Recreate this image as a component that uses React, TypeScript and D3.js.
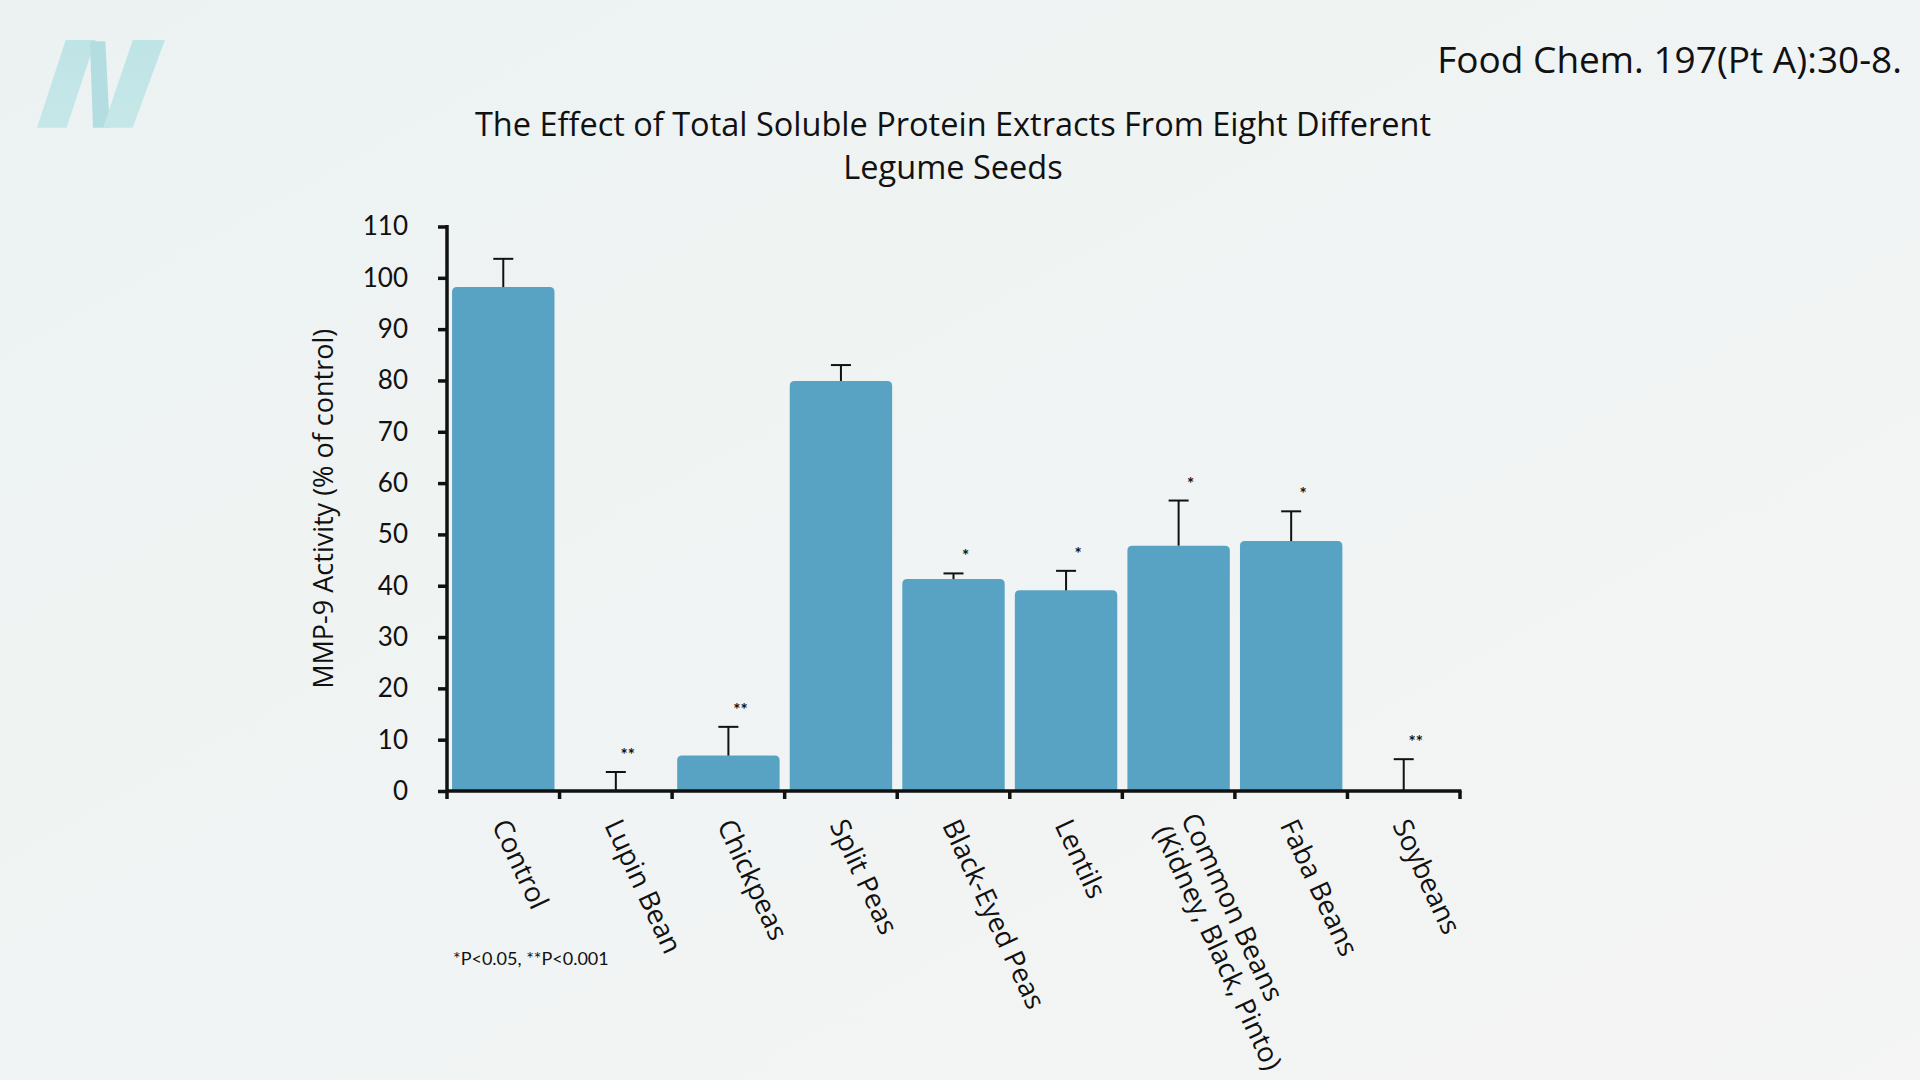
import React, { useEffect, useRef } from 'react';
import * as d3 from 'd3';

// Data
const categories = [
    'Control',
    'Lupin Bean',
    'Chickpeas',
    'Split Peas',
    'Black-Eyed Peas',
    'Lentils',
    'Common Beans (Kidney, Black, Pinto)',
    'Faba Beans',
    'Soybeans'
];
const categoryLines = [
    ['Control'],
    ['Lupin Bean'],
    ['Chickpeas'],
    ['Split Peas'],
    ['Black-Eyed Peas'],
    ['Lentils'],
    ['Common Beans', '(Kidney, Black, Pinto)'],
    ['Faba Beans'],
    ['Soybeans']
];
const activity = [98.2, 0, 6.9, 79.9, 41.3, 39.1, 47.8, 48.7, 0];
const errors = [5.5, 3.7, 5.6, 3.1, 1.1, 3.8, 8.8, 5.8, 6.2];
const significance = ['', '**', '**', '', '*', '*', '*', '*', '**'];
const yTicks = [0, 10, 20, 30, 40, 50, 60, 70, 80, 90, 100, 110];

const titleLines = [
    'The Effect of Total Soluble Protein Extracts From Eight Different',
    'Legume Seeds'
];
const citation = 'Food Chem. 197(Pt A):30-8.';
const yLabel = 'MMP-9 Activity (% of control)';
const footnote = '*P<0.05, **P<0.001';

const W = 1920;
const H = 1080;

const LegumeChart: React.FC = () => {
    const svgRef = useRef<SVGSVGElement>(null);

    useEffect(() => {
        if (!svgRef.current) return;
        const svg = d3.select(svgRef.current);
        svg.selectAll('*').remove();

        const left = 447, right = 1460, top = 226.5, bottom = 791;
        const sans = 'Lato, "Open Sans", sans-serif';
        const openSans = '"Open Sans", "Noto Sans", sans-serif';

        // background
        const defs = svg.append('defs');
        const grad = defs.append('linearGradient')
            .attr('id', 'bg').attr('x1', 0).attr('y1', 0).attr('x2', 1).attr('y2', 1);
        grad.append('stop').attr('offset', '0%').attr('stop-color', '#ecf2f2');
        grad.append('stop').attr('offset', '100%').attr('stop-color', '#f4f5f4');
        svg.append('rect').attr('width', W).attr('height', H).attr('fill', 'url(#bg)');

        // logo mark
        const logoGrad = defs.append('linearGradient')
            .attr('id', 'logo').attr('x1', 0).attr('y1', 0).attr('x2', 0).attr('y2', 1);
        logoGrad.append('stop').attr('offset', '0%').attr('stop-color', '#bfe4e6');
        logoGrad.append('stop').attr('offset', '100%').attr('stop-color', '#c6e7e8');
        const logo = svg.append('g')
            .attr('transform', 'translate(37,39) scale(0.441,0.332) translate(-85,-115)')
            .attr('fill', 'url(#logo)');
        logo.append('polygon').attr('points', '150,118 218,118 152,382 85,382');
        logo.append('polygon').attr('points', '205,122 240,122 250,382 212,382').attr('fill', '#b3dde0');
        logo.append('polygon').attr('points', '302,118 375,118 302,382 235,382');

        // citation
        svg.append('text')
            .attr('x', 1902).attr('y', 73)
            .attr('text-anchor', 'end')
            .attr('font-family', openSans)
            .attr('font-size', 37)
            .attr('fill', '#111')
            .text(citation);

        // title
        svg.append('g').selectAll('text')
            .data(titleLines)
            .enter()
            .append('text')
            .attr('x', 953)
            .attr('y', (_, i) => 136 + i * 43)
            .attr('text-anchor', 'middle')
            .attr('font-family', openSans)
            .attr('font-size', 32.5)
            .attr('fill', '#111')
            .text(d => d);

        const x = d3.scaleBand<string>()
            .domain(categories)
            .range([left, right])
            .paddingInner(0.09)
            .paddingOuter(0.045);

        const y = d3.scaleLinear()
            .domain([0, 110])
            .range([bottom, top]);

        const g = svg.append('g');
        const r = 5;

        // bars with rounded top corners
        g.selectAll('.bar')
            .data(categories)
            .enter()
            .append('path')
            .attr('class', 'bar')
            .attr('fill', '#58a3c4')
            .attr('d', (c, i) => {
                const x0 = x(c) as number;
                const w = x.bandwidth();
                const y0 = y(activity[i]);
                const h = bottom - y0;
                if (h <= 0) return '';
                const rr = Math.min(r, h);
                return `M${x0},${bottom}V${y0 + rr}Q${x0},${y0} ${x0 + rr},${y0}` +
                    `H${x0 + w - rr}Q${x0 + w},${y0} ${x0 + w},${y0 + rr}V${bottom}Z`;
            });

        // error bars (upper only)
        const cap = 10;
        const err = g.selectAll('.err')
            .data(categories)
            .enter()
            .append('g')
            .attr('class', 'err')
            .attr('stroke', '#111')
            .attr('stroke-width', 2);
        err.append('line')
            .attr('x1', c => (x(c) as number) + x.bandwidth() / 2)
            .attr('x2', c => (x(c) as number) + x.bandwidth() / 2)
            .attr('y1', (_, i) => y(activity[i]))
            .attr('y2', (_, i) => y(activity[i] + errors[i]));
        err.append('line')
            .attr('x1', c => (x(c) as number) + x.bandwidth() / 2 - cap)
            .attr('x2', c => (x(c) as number) + x.bandwidth() / 2 + cap)
            .attr('y1', (_, i) => y(activity[i] + errors[i]))
            .attr('y2', (_, i) => y(activity[i] + errors[i]));

        // significance marks
        g.selectAll('.sig')
            .data(categories)
            .enter()
            .append('text')
            .attr('class', 'sig')
            .attr('x', c => (x(c) as number) + x.bandwidth() / 2 + 12)
            .attr('y', (_, i) => y(activity[i] + errors[i]) - 11)
            .attr('text-anchor', 'middle')
            .attr('font-family', sans)
            .attr('font-size', 17)
            .attr('font-weight', 'bold')
            .attr('fill', '#111')
            .text((_, i) => significance[i]);

        // y axis
        const yAxis = g.append('g')
            .attr('transform', `translate(${left},0)`)
            .call(d3.axisLeft(y).tickValues(yTicks).tickSize(9).tickPadding(30).tickSizeOuter(0));
        yAxis.select('.domain').remove();
        yAxis.selectAll('.tick line').attr('stroke', '#111').attr('stroke-width', 3.5);
        yAxis.selectAll('.tick text')
            .attr('font-family', sans)
            .attr('font-size', 26)
            .attr('fill', '#111');
        g.append('line')
            .attr('x1', left).attr('x2', left)
            .attr('y1', top - 1.5).attr('y2', bottom + 8)
            .attr('stroke', '#111').attr('stroke-width', 3.5);

        // x axis with ticks at band boundaries
        g.append('line')
            .attr('x1', left).attr('x2', right + 1.5)
            .attr('y1', bottom).attr('y2', bottom)
            .attr('stroke', '#111').attr('stroke-width', 3.5);
        const edges = d3.range(categories.length + 1).map(i => x.range()[0] + i * x.step());
        g.selectAll('.xtick')
            .data(edges.slice(1))
            .enter()
            .append('line')
            .attr('x1', d => d).attr('x2', d => d)
            .attr('y1', bottom).attr('y2', bottom + 8)
            .attr('stroke', '#111').attr('stroke-width', 3.5);

        // rotated category labels
        const angle = 65;
        g.selectAll('.xlab')
            .data(categories)
            .enter()
            .append('text')
            .attr('class', 'xlab')
            .attr('transform', c => `translate(${(x(c) as number) + x.bandwidth() / 2 - 3},${bottom + 30}) rotate(${angle})`)
            .attr('font-family', openSans)
            .attr('font-size', 27.5)
            .attr('fill', '#111')
            .each(function (_, i) {
                const lines = categoryLines[i];
                const t = d3.select(this);
                lines.forEach((line, j) => {
                    t.append('tspan')
                        .attr('x', 0)
                        .attr('dy', j === 0 ? `${0.35 - (lines.length - 1) * 0.55}em` : '1.1em')
                        .text(line);
                });
            });

        // y axis label
        svg.append('text')
            .attr('transform', `translate(333,${(top + bottom) / 2}) rotate(-90)`)
            .attr('text-anchor', 'middle')
            .attr('font-family', openSans)
            .attr('font-size', 27)
            .attr('fill', '#111')
            .text(yLabel);

        // footnote
        svg.append('text')
            .attr('x', 453).attr('y', 965)
            .attr('font-family', sans)
            .attr('font-size', 18)
            .attr('fill', '#111')
            .text(footnote);
    }, []);

    return <svg ref={svgRef} width={W} height={H} viewBox={`0 0 ${W} ${H}`} style={{ display: 'block' }}></svg>;
};

export default function App() {
    return (
        <div style={{ position: 'fixed', left: 0, top: 0, width: W, height: H, overflow: 'hidden' }}>
            <LegumeChart />
        </div>
    );
}
